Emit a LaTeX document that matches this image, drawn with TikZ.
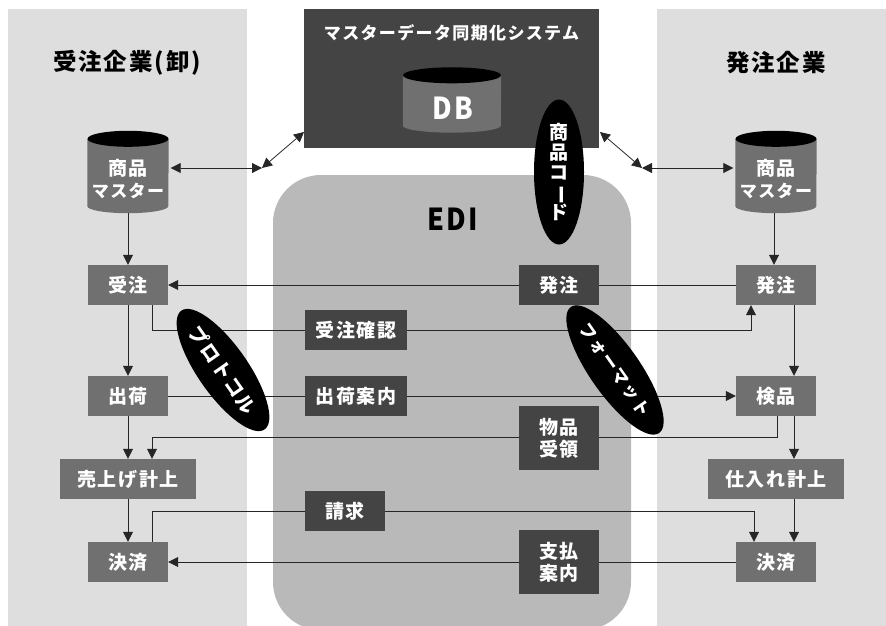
\documentclass[tikz,border=0pt]{standalone}
\usepackage{fontspec}
\setmainfont[LetterSpace=8]{Noto Sans CJK JP}
\usetikzlibrary{arrows.meta, shapes.geometric}
\definecolor{panelgray}{HTML}{DEDEDE}
\definecolor{edigray}{HTML}{B9B9B9}
\definecolor{midgray}{HTML}{707070}
\definecolor{darkgray}{HTML}{444444}
\tikzset{
	label/.style = {font = \fontsize{19}{22}\selectfont\bfseries, text = white, align = center, inner sep = 0},
	title/.style = {font = \fontsize{23.5}{26}\selectfont\bfseries, inner sep = 0},
	firm/.style = {label, fill = midgray, minimum width = 80, minimum height = 40},
	edibox/.style = {label, fill = darkgray, minimum width = 80, minimum height = 40},
	badge/.style = {label, shape = ellipse, fill = black, minimum width = 145, minimum height = 50},
	link/.style = {draw = black!85, line width = 0.8},
	flow/.style = {link, -{Triangle[length = 10, width = 10]}},
	both/.style = {link, {Triangle[length = 10, width = 10]}-{Triangle[length = 10, width = 10]}}
}
\newcommand{\drum}[4]{
	\node[minimum width = #3, minimum height = #4, inner sep = 0] (#1) at (#2) {};
	\fill[midgray] ([yshift = -8]#1.north west) -- ([yshift = 7]#1.south west) arc[start angle = 180, end angle = 0, x radius = #3/2, y radius = 7] -- ([yshift = -8]#1.north east) -- cycle;
	\fill[black] ([yshift = -8]#1.north) ellipse[x radius = #3/2, y radius = 8];
}
\begin{document}
\begin{tikzpicture}[x = 1pt, y = -1pt]
		\useasboundingbox (0, 0) rectangle (886, 626);
		\clip (0, 0) rectangle (886, 626);
		\fill[panelgray] (8, 9) rectangle (247, 626);
		\fill[panelgray] (657, 9) rectangle (886, 626);
		\fill[edigray, rounded corners = 48] (273, 175) rectangle (631, 630);
		\node[fill = darkgray, minimum width = 295, minimum height = 139] (sync) at (451.5, 78.5) {};
			\node[label, font = \fontsize{17}{22}\selectfont\bfseries] (synctitle) at (451.5, 33) {マスターデータ同期化システム};
		\node[title] (seller) at (127, 63) {受注企業(卸)};
		\node[title] (buyer) at (776, 63) {発注企業};
		\node[font = \fontsize{27}{28}\selectfont\bfseries, inner sep = 0] (edi) at (453, 219.5) {\scalebox{1}[1.12]{EDI}};

		\drum{db}{452, 100}{98}{65}
			\node[label, font = \fontsize{27}{28}\selectfont\bfseries] (dbtext) at (453, 108.5) {\scalebox{1}[1.12]{DB}};
		\drum{masterL}{128, 172}{81}{82}
			\node[label] (masterLtext) at (128, 179.5) {商品\\\fontsize{17}{22}\selectfont マスター};
		\drum{masterR}{776, 172}{81}{82}
			\node[label] (masterRtext) at (776, 179.5) {商品\\\fontsize{17}{22}\selectfont マスター};

		\node[firm] (orderL) at (128, 285) {受注};
		\node[firm] (shipL) at (128, 396) {出荷};
		\node[firm, minimum width = 136] (salesL) at (128, 479) {売上げ計上};
		\node[firm] (payL) at (128, 562) {決済};
		\node[firm] (orderR) at (776, 285) {発注};
		\node[firm] (checkR) at (776, 396) {検品};
		\node[firm, minimum width = 136] (buyR) at (776, 479) {仕入れ計上};
		\node[firm] (payR) at (776, 562) {決済};

		\node[edibox] (ediorder) at (559, 285) {発注};
		\node[edibox, minimum width = 102] (ediconfirm) at (356, 330) {受注確認};
		\node[edibox, minimum width = 102] (ediship) at (356, 396) {出荷案内};
		\node[edibox, minimum height = 64] (edireceipt) at (559, 438) {物品\\受領};
		\node[edibox] (edibill) at (345, 511) {請求};
		\node[edibox, minimum height = 64] (edipay) at (559, 562) {支払\\案内};

		\coordinate (hubL) at (262, 168);
		\coordinate (hubR) at (642, 168);
		\coordinate (syncL) at (304, 132);
		\coordinate (syncR) at (600, 132);
		\draw[both] ([xshift = 2]masterL.east |- hubL) -- (hubL);
		\draw[both] (hubL) -- (syncL);
		\draw[both] (syncR) -- (hubR);
		\draw[both] (hubR) -- ([xshift = -2]masterR.west |- hubR);

		\draw[flow] (masterL) -- (orderL);
		\draw[flow] ([xshift = -2]masterR.south) -- ([xshift = -2]orderR.north);
		\draw[flow] (orderL) -- (shipL);
		\draw[flow] (shipL) -- (salesL);
		\draw[flow] (salesL) -- (payL);
		\draw[flow] ([xshift = 18]orderR.south) -- ([xshift = 18]checkR.north);
		\draw[flow] ([xshift = 18]checkR.south) -- ([xshift = 18]buyR.north);
		\draw[flow] ([xshift = 18]buyR.south) -- ([xshift = 18]payR.north);

		\draw[link] (orderR) -- (ediorder);
		\draw[flow] (ediorder) -- (orderL);
		\draw[link] ([xshift = 24]orderL.south) |- (ediconfirm);
		\draw[flow] (ediconfirm) -| ([xshift = -25]orderR.south);
		\draw[link] (shipL) -- (ediship);
		\draw[flow] (ediship) -- (checkR);
		\draw[link] ([xshift = 1]checkR.south) |- (edireceipt.east |- 0, 437);
		\draw[flow] (edireceipt.west |- 0, 437) -| ([xshift = 24]salesL.north);
		\draw[link] (edibill) -| ([xshift = 24]payL.north);
		\draw[flow] (edibill) -| ([xshift = -22]payR.north);
		\draw[link] (payR) -- (edipay);
		\draw[flow] (edipay) -- (payL);

		\node[badge, minimum width = 50, minimum height = 145, font = \fontsize{19}{20}\selectfont\bfseries] (code) at (559, 172) {商\\品\\コ\\\smash{\rotatebox[origin = c]{-90}{ー}}\\ド};
		\node[badge, rotate = -55] (protocol) at (223, 370) {プロトコル};
		\node[badge, rotate = -55, font = \fontsize{17}{22}\selectfont\bfseries] (format) at (615, 370) {フォーマット};
	\end{tikzpicture}
\end{document}
